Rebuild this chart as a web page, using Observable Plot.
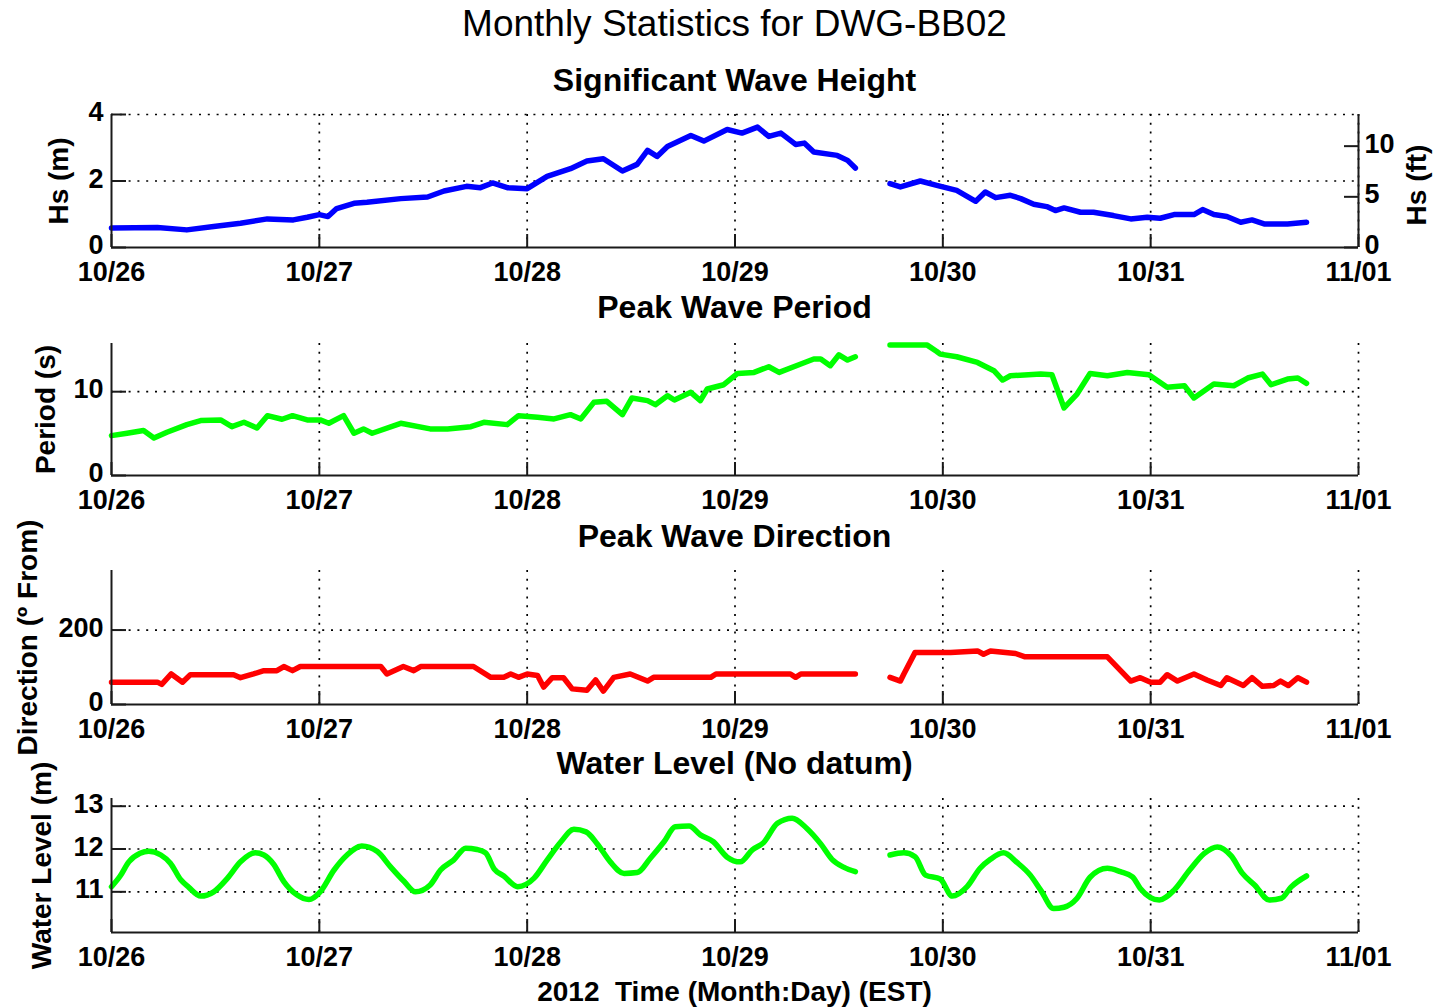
<!DOCTYPE html>
<html><head><meta charset="utf-8">
<script src="https://cdn.jsdelivr.net/npm/d3@7"></script>
<script src="https://cdn.jsdelivr.net/npm/@observablehq/plot@0.6"></script>
<style>
html,body{margin:0;padding:0;background:#fff;overflow:hidden}
#root{position:relative;width:1437px;height:1008px;font-family:'Liberation Sans',Arial,Helvetica,sans-serif;color:#000}
.t{position:absolute;left:111px;width:1247px;text-align:center;white-space:pre;line-height:1}
.p{position:absolute;left:0}
</style></head><body><div id="root"></div>
<script>
// ---------- data ----------
const dayTicks = ["2012-10-26","2012-10-27","2012-10-28","2012-10-29","2012-10-30","2012-10-31","2012-11-01"];
const mainTitle = "Monthly Statistics for DWG-BB02";
const panelTitles = ["Significant Wave Height","Peak Wave Period","Peak Wave Direction","Water Level (No datum)"];
const yLabels = ["Hs (m)","Period (s)","Direction (º From)","Water Level (m)"];
const rightLabel = "Hs (ft)";
const xLabel = "2012  Time (Month:Day) (EST)";

// hours after 10/26 00:00 (EST); null marks the data gap
const hsHours = [0,5.3,8.7,11.8,14.9,18,21,22.6,24,25,26,28,29.5,33.4,36.5,38.4,41,42.6,44,45.7,48,50.3,53,54.9,56.8,59,60.7,61.9,63,64.2,66.9,68.4,71.1,72.8,74.6,75.9,77.3,79,80,81.1,83.8,85,85.9,88,89.9,91.1,93.4,95.3,97.6,99.8,100.9,102.1,103.8,105,106.5,108,109,110,111.9,113.4,115.7,117.7,119.6,121.1,122.7,125,126,127.3,128.8,130.4,131.7,133.1,135.8,138];
const hsValues = [0.59,0.60,0.53,0.63,0.73,0.86,0.83,0.91,0.99,0.93,1.17,1.33,1.36,1.47,1.52,1.70,1.84,1.80,1.94,1.80,1.77,2.14,2.37,2.60,2.67,2.30,2.50,2.92,2.74,3.04,3.37,3.20,3.55,3.44,3.62,3.34,3.44,3.10,3.14,2.87,2.77,2.62,2.39,null,1.92,1.82,2.00,1.87,1.72,1.39,1.67,1.50,1.57,1.47,1.30,1.23,1.11,1.19,1.06,1.06,0.96,0.86,0.91,0.88,0.99,0.99,1.14,0.99,0.93,0.76,0.83,0.71,0.71,0.76];

const tpHours = [0,1.8,3.7,4.9,6.4,8.7,10.3,12.6,13.9,15.3,16.8,18,19.7,20.9,22.6,24.1,25.1,26.8,28,29.1,30.1,33.4,36.8,38.8,41.5,43,45.7,47,49.2,51.1,53,54.2,55.7,57.2,59,60.1,61.9,62.8,64.2,65,66.9,68,68.8,70.7,72.3,74.2,75.9,77.1,79.6,81.1,81.9,83,84,85,85.9,88,89.9,94.2,95.3,95.7,97.6,100,101.9,102.9,103.8,107.3,108.6,110,111.5,113,115,117.3,119.8,121.9,123.9,125,127.3,129.6,131.2,132.9,133.9,135.8,137,138];
const tpValues = [4.76,5.04,5.36,4.48,5.16,6.07,6.55,6.63,5.83,6.35,5.67,7.14,6.71,7.14,6.63,6.63,6.23,7.14,5.04,5.56,5.04,6.23,5.56,5.56,5.83,6.35,6.07,7.14,6.94,6.75,7.26,6.75,8.73,8.85,7.26,9.25,8.93,8.45,9.52,9.01,9.92,8.93,10.32,10.83,12.18,12.3,12.98,12.3,13.3,13.9,13.9,13.1,14.4,13.77,14.17,null,15.56,15.56,14.8,14.48,14.17,13.49,12.5,11.39,11.9,12.1,12.02,8.06,9.72,12.18,11.9,12.3,12.02,10.52,10.71,9.25,10.91,10.71,11.63,12.1,10.83,11.51,11.63,10.99];

const dirHours = [0,5.3,5.8,6.9,8.2,9.1,14.1,14.9,16.4,17.6,19.1,19.9,20.9,21.8,31.1,31.8,33.7,34.9,35.7,41.8,43.8,45.3,46.1,47,48,49.2,49.9,50.9,52.2,53.2,54.9,55.9,56.8,58,59.9,61.9,62.6,69.2,69.8,78.4,79,79.6,85.9,88,89.9,91.1,91.5,92.8,96.9,100,100.7,101.5,104.4,105.5,115,117.7,118.8,120,121.1,121.9,123.1,125,126.5,128.1,128.8,130.7,131.7,132.9,134.2,135,135.9,137,138];
const dirValues = [60,60,54,82,60,80,80,72,82,91,91,102,91,102,102,82,102,91,102,102,73,73,82,73,82,78,47,72,72,42,38,66,36,73,82,63,73,73,82,82,73,82,82,null,73,63,82,140,140,144,135,144,137,128,128,63,72,60,60,80,63,82,66,51,72,51,72,49,51,63,51,72,60];

const wlHours = [0,1,2,3.3,4.3,5.7,6.8,8,8.9,10.3,11.8,13.4,14.9,16.6,17.6,18.7,19.9,21.4,22.8,24.1,25.7,27.2,28.9,30.7,32.2,33.8,35.1,36.8,38,39.5,40.9,42.2,43.2,44.2,45.3,46.9,48.8,50.3,51.9,53.4,54.8,56.1,57.6,59.2,60.7,62.2,63.8,65.1,66.7,68,69.5,71.1,72.6,74,75.3,76.9,78.6,80.3,81.9,83.2,84.6,85.9,88,89.9,91.5,92.8,94,95.7,97.1,98.8,100.3,101.5,103,104.6,106.1,107.3,108.8,110,111.5,113,115,116.5,117.9,118.8,121,122.7,124.5,126.2,127.7,129.3,130.6,132,133.7,135.1,136.2,138];
const wlValues = [11.12,11.37,11.70,11.90,11.95,11.86,11.67,11.28,11.11,10.90,11.00,11.32,11.70,11.91,11.86,11.65,11.24,10.93,10.82,11.00,11.51,11.86,12.07,11.94,11.59,11.24,11.00,11.16,11.51,11.74,12.02,11.99,11.91,11.53,11.37,11.12,11.32,11.74,12.17,12.46,12.40,12.12,11.70,11.43,11.45,11.78,12.17,12.52,12.54,12.33,12.17,11.81,11.70,11.98,12.15,12.60,12.72,12.48,12.12,11.76,11.57,11.47,null,11.86,11.91,11.82,11.39,11.30,10.90,11.12,11.55,11.76,11.91,11.68,11.39,11.04,10.61,10.64,10.85,11.34,11.55,11.47,11.35,11.08,10.81,11.04,11.51,11.90,12.05,11.84,11.43,11.16,10.81,10.85,11.11,11.37];

const hsTicks = [0,2,4];
const hsFtTicks = [0,5,10];
const tpTicks = [0,10];
const dirTicks = [0,200];
const wlTicks = [11,12,13];
const hsDomain = [0,4];
const tpDomain = [0,15.75];
const dirDomain = [0,360];
const wlDomain = [10.05,13.18];
const M_PER_FT = 0.3048;

// ---------- drawing ----------
const root = document.getElementById("root");
const days = dayTicks.map(d => new Date(d + "T00:00:00Z"));
const toDate = h => new Date(days[0].getTime() + h * 3600e3);
const W = 1437, ML = 111, MR = 79, MB = 45, FW = W - ML - MR;
const ink = "#1a1a1a";
const dots = {stroke: "#000", strokeWidth: 1.7, strokeDasharray: "2,6.8"};
const font = "'Liberation Sans', Arial, Helvetica, sans-serif";

function addTitle(text, cy, size, weight) {
  const d = document.createElement("div");
  d.className = "t";
  d.textContent = text;
  d.style.top = (cy - size / 2) + "px";
  d.style.fontSize = size + "px";
  d.style.fontWeight = weight;
  root.appendChild(d);
}

function panel({hours, values, color, domain, ticks, label, labelDx, top, mt, fh, curve = "linear", extra = []}) {
  const data = hours.map((h, i) => ({t: toDate(h), v: values[i]}));
  const svg = Plot.plot({
    width: W, height: mt + fh + MB,
    marginTop: mt, marginBottom: MB, marginLeft: ML, marginRight: MR,
    style: {fontFamily: font, fontSize: "27px", fontWeight: "bold", overflow: "visible", background: "transparent", color: "#000"},
    x: {type: "utc", domain: [days[0], days[days.length - 1]], ticks: days, tickFormat: d3.utcFormat("%m/%d"), tickSize: 0, tickPadding: 14, label: null},
    y: {domain, axis: null},
    marks: [
      Plot.ruleY(ticks.filter(v => v > domain[0]), {y: d => d, ...dots}),
      Plot.ruleX(days.slice(1), {x: d => d, ...dots}),
      Plot.line(data, {x: "t", y: "v", curve, stroke: color, strokeWidth: 5.5, strokeLinejoin: "round", strokeLinecap: "round"}),
      Plot.ruleX([days[0]], {x: d => d, stroke: ink, strokeWidth: 2}),
      Plot.ruleY([domain[0]], {y: d => d, stroke: ink, strokeWidth: 2}),
      Plot.tickX(days, {x: d => d, insetTop: fh - 13, stroke: ink, strokeWidth: 2}),
      Plot.tickY(ticks, {y: d => d, insetRight: FW - 15, stroke: ink, strokeWidth: 2}),
      Plot.text(ticks, {y: d => d, text: d => String(d), frameAnchor: "left", dx: -8, dy: -2, textAnchor: "end", lineAnchor: "middle", fill: "#000", fontSize: 27, fontWeight: "bold"}),
      Plot.text([label], {text: d => d, frameAnchor: "left", dx: labelDx, rotate: -90, textAnchor: "middle", lineAnchor: "middle", fill: "#000", fontSize: 28, fontWeight: "bold"}),
      ...extra
    ]
  });
  svg.classList.add("p");
  svg.style.position = "absolute";
  svg.style.left = "0px";
  svg.style.top = top + "px";
  root.appendChild(svg);
}

addTitle(mainTitle, 23, 37, "normal");
addTitle(panelTitles[0], 80, 32, "bold");
panel({hours: hsHours, values: hsValues, color: "#0000ff", domain: hsDomain, ticks: hsTicks, label: yLabels[0], labelDx: -52, top: 100, mt: 14, fh: 133,
  extra: [
    Plot.ruleX([days[days.length - 1]], {x: d => d, stroke: ink, strokeWidth: 2}),
    Plot.tickY(hsFtTicks, {y: d => d * M_PER_FT, insetLeft: FW - 14, stroke: ink, strokeWidth: 2}),
    Plot.text(hsFtTicks, {y: d => d * M_PER_FT, text: d => String(d), frameAnchor: "right", dx: 6, dy: -2, textAnchor: "start", lineAnchor: "middle", fill: "#000", fontSize: 27, fontWeight: "bold"}),
    Plot.text([rightLabel], {text: d => d, frameAnchor: "right", dx: 59, dy: 4, rotate: -90, textAnchor: "middle", lineAnchor: "middle", fill: "#000", fontSize: 28, fontWeight: "bold"})
  ]});
addTitle(panelTitles[1], 307, 32, "bold");
panel({hours: tpHours, values: tpValues, color: "#00ff00", domain: tpDomain, ticks: tpTicks, label: yLabels[1], labelDx: -65, top: 328, mt: 15, fh: 132});
addTitle(panelTitles[2], 536, 32, "bold");
panel({hours: dirHours, values: dirValues, color: "#ff0000", domain: dirDomain, ticks: dirTicks, label: yLabels[2], labelDx: -83, top: 555, mt: 15, fh: 134});
addTitle(panelTitles[3], 763, 32, "bold");
panel({hours: wlHours, values: wlValues, color: "#00ff00", domain: wlDomain, ticks: wlTicks, label: yLabels[3], labelDx: -69, top: 783, mt: 15, fh: 134, curve: "monotone-x"});
addTitle(xLabel, 992, 28, "bold");
</script></body></html>
